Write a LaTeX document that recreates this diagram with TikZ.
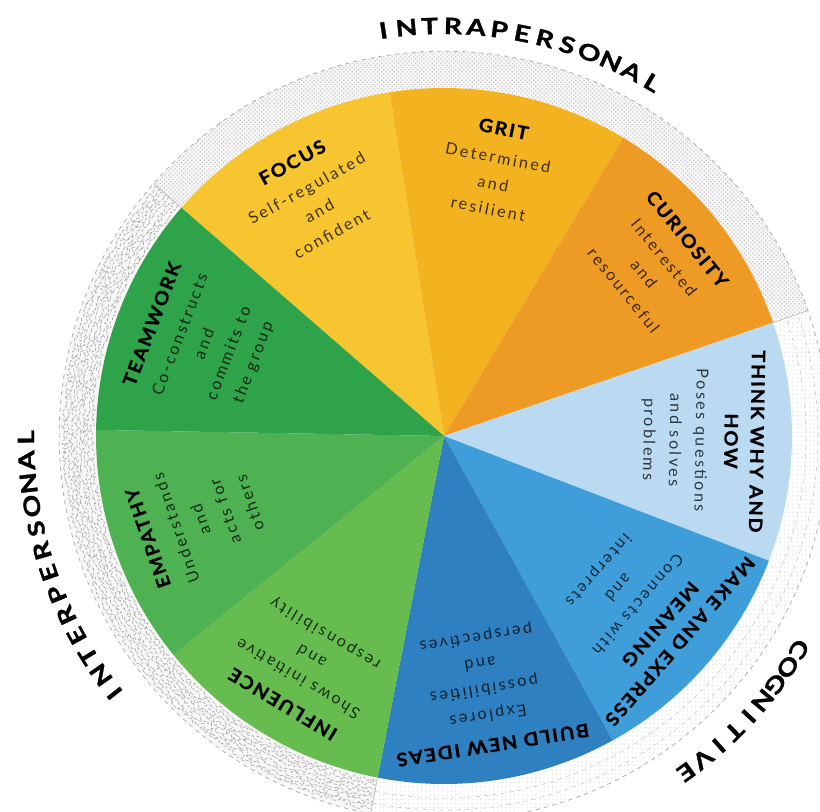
\documentclass[tikz,border=0pt]{standalone}
\usepackage{fontspec}
\usepackage{xcolor}
\usepackage{tikz}
\usetikzlibrary{patterns, decorations.pathmorphing}
\setmainfont{Lato}
\newfontfamily\bodyfont{Lato}[LetterSpace=15]
\newfontfamily\headfont{Lato}[LetterSpace=10, FakeBold=0.8, FakeStretch=1.08]
\newfontfamily\ringfont{Lato}[FakeBold=1.4, FakeStretch=1.25]
\definecolor{focuscol}{HTML}{F6C530}
\definecolor{gritcol}{HTML}{F3B321}
\definecolor{curiocol}{HTML}{EE9B26}
\definecolor{thinkcol}{HTML}{B9DAF1}
\definecolor{makecol}{HTML}{3F9EDA}
\definecolor{buildcol}{HTML}{2F80C0}
\definecolor{influcol}{HTML}{66BC4F}
\definecolor{empathcol}{HTML}{4EB152}
\definecolor{teamcol}{HTML}{2FA349}
\tikzstyle{wedgetext} = [align=center, anchor=north, inner sep=0pt, font=\fontsize{11.5}{18.5}\selectfont\bodyfont]
\tikzstyle{ringletter} = [anchor=base, inner sep=0pt, font=\fontsize{16}{18}\selectfont\ringfont\bfseries]
\tikzstyle{ringedge} = [gray!60, dashed, line width=0.6pt]
\tikzstyle{squiggle} = [gray!65, line width=0.45pt, dash pattern=on 2.5pt off 1.2pt, decorate, decoration={random steps, segment length=1.5pt, amplitude=1.5pt}]
\newcommand{\heading}[1]{{\fontsize{13}{19}\selectfont\headfont\bfseries\color{black}#1}}

\begin{document}
\begin{tikzpicture}
		\useasboundingbox (-11.1,-9.4) rectangle (9.4,10.9);
		% outer rings
		\fill[gray!7, postaction={pattern=crosshatch dots, pattern color=gray!50}] (19:8.7) arc[start angle=19, end angle=139, radius=8.7] -- (139:9.62) arc[start angle=139, end angle=19, radius=9.62] -- cycle;
		\fill[gray!6] (139:8.7) arc[start angle=139, end angle=259, radius=8.7] -- (259:9.62) arc[start angle=259, end angle=139, radius=9.62] -- cycle;
		\foreach \r in {8.8,8.9,...,9.55}
			\draw[squiggle] (139:\r) arc[start angle=139, end angle=259, radius=\r];
		\fill[white, postaction={pattern=dots, pattern color=gray!25}] (-101:8.7) arc[start angle=-101, end angle=19, radius=8.7] -- (19:9.62) arc[start angle=19, end angle=-101, radius=9.62] -- cycle;
		\draw[gray!45, dashed] (-101:9.05) arc[start angle=-101, end angle=19, radius=9.05];
		\draw[gray!45, dashed] (-101:9.35) arc[start angle=-101, end angle=19, radius=9.35];
		\draw[ringedge] (0,0) circle[radius=9.62];
		\draw[gray!60] (139:8.7) -- (139:9.62);
		\draw[gray!60] (19:8.7) -- (19:9.62);
		\draw[gray!60] (-101:8.7) -- (-101:9.62);
		% wedges
		\fill[focuscol] (0,0) -- (99:8.7) arc[start angle=99, end angle=139, radius=8.7] -- cycle;
		\fill[gritcol] (0,0) -- (59:8.7) arc[start angle=59, end angle=99, radius=8.7] -- cycle;
		\fill[curiocol] (0,0) -- (19:8.7) arc[start angle=19, end angle=59, radius=8.7] -- cycle;
		\fill[thinkcol] (0,0) -- (-21:8.7) arc[start angle=-21, end angle=19, radius=8.7] -- cycle;
		\fill[makecol] (0,0) -- (-61:8.7) arc[start angle=-61, end angle=-21, radius=8.7] -- cycle;
		\fill[buildcol] (0,0) -- (-101:8.7) arc[start angle=-101, end angle=-61, radius=8.7] -- cycle;
		\fill[influcol] (0,0) -- (-141:8.7) arc[start angle=-141, end angle=-101, radius=8.7] -- cycle;
		\fill[empathcol] (0,0) -- (179:8.7) arc[start angle=179, end angle=219, radius=8.7] -- cycle;
		\fill[teamcol] (0,0) -- (139:8.7) arc[start angle=139, end angle=179, radius=8.7] -- cycle;
		% wedge texts
		\node (Focus)[wedgetext, text=black!75!focuscol, rotate=29] at (119:8) {\heading{FOCUS}\\[2pt] Self-regulated\\and\\confident};
		\node (Grit)[wedgetext, text=black!75!gritcol, rotate=-11] at (79:8) {\heading{GRIT}\\[2pt] Determined\\and\\resilient};
		\node (Curiosity)[wedgetext, text=black!75!curiocol, rotate=-51] at (39:8) {\heading{CURIOSITY}\\[2pt] Interested\\and\\resourceful};
		\node (Think)[wedgetext, text=black!75!thinkcol, rotate=-91] at (-1:8) {\heading{THINK WHY AND}\\\heading{HOW}\\[2pt] Poses questions\\and solves\\problems};
		\node (Make)[wedgetext, text=black!75!makecol, rotate=-131] at (-41:8) {\heading{MAKE AND EXPRESS}\\\heading{MEANING}\\[2pt] Connects with\\and\\interprets};
		\node (Build)[wedgetext, text=black!75!buildcol, rotate=-171] at (-81:8) {\heading{BUILD NEW IDEAS}\\[2pt] Explores\\possibilities\\and\\perspectives};
		\node (Influence)[wedgetext, text=black!75!influcol, rotate=149] at (-121:8) {\heading{INFLUENCE}\\[2pt] Shows initiative\\and\\responsibility};
		\node (Empathy)[wedgetext, text=black!75!empathcol, rotate=109] at (199:8) {\heading{EMPATHY}\\[2pt] Understands\\and\\acts for\\others};
		\node (Teamwork)[wedgetext, text=black!75!teamcol, rotate=69] at (159:8) {\heading{TEAMWORK}\\[2pt] Co-constructs\\and\\commits to\\the group};
		% ring labels, one letter at a time
		\foreach \ch [count=\i] in {I,N,T,R,A,P,E,R,S,O,N,A,L}
			\node (intra-\i)[ringletter, rotate=8.5-(\i-1)*3.25] at ({98.5-(\i-1)*3.25}:10.05) {\ch};
		\foreach \ch [count=\i] in {I,N,T,E,R,P,E,R,S,O,N,A,L}
			\node (inter-\i)[ringletter, rotate=128-(\i-1)*3.15] at ({218-(\i-1)*3.15}:10.25) {\ch};
		\foreach \ch [count=\i] in {C,O,G,N,I,T,I,V,E}
			\node (cogn-\i)[ringletter, rotate=-121-(\i-1)*2.9] at ({-31-(\i-1)*2.9}:10.15) {\ch};
	\end{tikzpicture}
\end{document}
